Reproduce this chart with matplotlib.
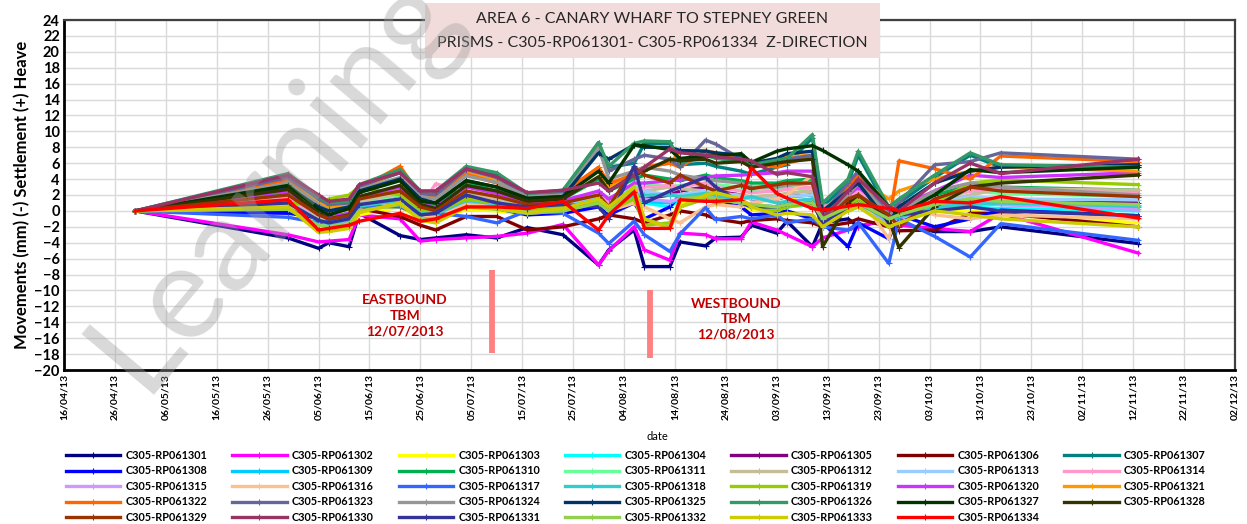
import matplotlib
matplotlib.use("Agg")
import matplotlib.pyplot as plt
import matplotlib.dates as mdates
from matplotlib.ticker import FixedLocator
from matplotlib.patches import Rectangle
import numpy as np
import datetime as dt

# ---------------- data ----------------
dates = ["2013-04-30", "2013-05-30", "2013-06-05", "2013-06-07", "2013-06-11", "2013-06-13",
         "2013-06-21", "2013-06-25", "2013-06-28", "2013-07-04", "2013-07-10", "2013-07-16",
         "2013-07-23", "2013-07-30", "2013-08-01", "2013-08-06", "2013-08-08", "2013-08-13",
         "2013-08-15", "2013-08-20", "2013-08-22", "2013-08-27", "2013-08-29", "2013-09-03",
         "2013-09-05", "2013-09-10", "2013-09-12", "2013-09-17", "2013-09-19", "2013-09-25",
         "2013-09-27", "2013-10-04", "2013-10-11", "2013-10-17", "2013-11-13"]

s1301 = [0, -3.4, -4.7, -4.0, -4.5, -0.3, -3.1, -3.6, -3.4, -3.0, -3.4, -2.1, -3.0, -6.8, -4.9, -2.4, -7.0, -7.0, -3.9, -4.4, -3.4, -3.3, -1.8, -2.8, -1.3, -4.5, -1.5, -1.0, -2.0, -1.0, -1.5, -2.6, -2.6, -2.0, -4.1]
s1302 = [0, -3.0, -3.9, -3.8, -3.6, -0.5, -1.0, -3.8, -3.6, -3.4, -3.2, -2.8, -1.7, -6.8, -5.0, -2.0, -4.9, -6.2, -2.8, -3.0, -3.5, -3.5, -1.4, -2.4, -3.0, -4.5, -3.4, -2.4, -2.0, -1.0, -1.8, -2.2, -2.6, -0.3, -5.3]
s1303 = [0, 0.3, -2.5, -2.4, -2.0, -0.5, 0.5, -1.0, -1.2, 0.2, 0.0, -0.5, 0.0, 0.5, -0.5, 2.0, 0.5, -1.0, 1.0, 1.5, 1.0, 0.5, 0.2, 0.3, 0.5, 4.3, -0.5, 0.5, 1.5, -1.5, -0.5, 0.5, 0.0, -0.5, -1.5]
s1304 = [0, 0.8, -1.3, -1.8, -1.3, 0.4, 1.0, -0.5, -0.6, 1.0, 0.6, -0.2, 0.2, 1.5, 0.5, 2.0, 1.0, 0.5, 1.5, 1.8, 1.5, 1.0, 0.5, 0.3, 0.5, 0.8, -1.0, 0.0, 0.5, -1.5, -1.0, 0.3, 0.5, 0.3, 0.0]
s1305 = [0, 1.5, -0.8, -1.5, -1.0, 1.0, 2.0, -0.2, -0.5, 1.8, 1.2, 0.5, 0.8, 1.5, 0.5, 2.5, 1.5, 2.0, 2.5, 3.0, 2.5, 2.0, 1.5, 1.5, 1.8, 2.0, -0.5, 1.0, 2.0, -0.5, 0.0, 1.0, 1.5, 1.2, 1.0]
s1306 = [0, 0.0, -1.0, -1.3, -1.0, 0.3, -0.7, -1.8, -2.4, -0.7, -0.7, -2.4, -2.0, -1.0, -0.5, -1.0, -1.5, -0.5, 0.0, -0.5, -1.0, -1.5, -1.2, -1.0, -1.2, -1.5, -2.0, -1.5, -1.0, -2.0, -2.5, -2.4, -0.3, -0.3, -2.0]
s1307 = [0, 4.5, 1.5, 0.5, 0.8, 3.0, 4.8, 2.3, 2.3, 5.3, 4.6, 2.0, 2.5, 8.4, 5.5, 6.0, 8.5, 8.5, 5.8, 6.0, 5.6, 5.0, 4.6, 5.5, 5.8, 9.2, 0.5, 3.5, 7.0, 0.0, 1.0, 4.2, 7.0, 5.5, 5.8]
s1308 = [0, -0.3, -0.8, -1.2, -0.8, 0.5, 0.8, -0.5, -0.8, 0.6, 0.3, -0.5, -0.3, 0.5, -0.5, 1.0, -1.0, 0.5, 2.0, 2.4, 1.5, 0.5, -0.5, -0.3, 0.0, -1.0, -1.5, -4.5, -1.5, -3.5, -0.5, -2.0, -1.0, 0.1, -0.6]
s1309 = [0, 0.6, -1.0, -1.4, -1.0, 0.5, 1.0, -0.3, -0.5, 1.2, 0.7, 0.2, 0.4, 1.2, 0.0, 1.8, 1.2, 1.0, 1.5, 2.0, 1.8, 1.2, 0.8, 0.5, 0.8, 1.0, -0.5, 0.3, 0.8, -1.0, -0.5, 0.5, 1.0, 0.8, 0.5]
s1310 = [0, 2.2, -0.2, -0.8, -0.3, 1.7, 3.0, 1.0, 0.8, 3.5, 2.5, 1.3, 1.5, 4.0, 2.5, 4.0, 4.5, 4.0, 3.8, 4.5, 4.2, 3.8, 3.5, 3.5, 3.8, 4.0, 0.3, 1.8, 2.8, 0.5, 0.8, 2.0, 3.2, 3.0, 2.6]
s1311 = [0, 1.6, -0.7, -1.2, -0.8, 1.0, 2.0, 0.2, 0.0, 2.2, 1.5, 0.6, 0.8, 2.5, 1.5, 3.0, 3.5, 3.0, 3.2, 3.5, 3.3, 3.0, 2.7, 2.8, 3.0, 2.5, 0.0, 1.0, 2.0, -0.5, 0.0, 1.5, 2.5, 2.2, 1.8]
s1312 = [0, 1.8, -0.8, -1.2, -0.8, 1.2, 2.2, 0.3, 0.0, 2.0, 1.5, 0.8, 0.8, 1.5, 0.5, 2.0, 2.5, 3.0, 2.8, 2.5, 2.2, 2.0, 1.8, 2.0, 2.2, 2.5, 0.5, 1.5, 2.0, 0.0, 0.3, 1.0, 2.0, 2.8, 2.6]
s1313 = [0, 1.2, -1.0, -1.5, -1.0, 0.8, 1.5, 0.0, -0.3, 1.5, 1.0, 0.3, 0.5, 1.8, 1.0, 2.2, 2.5, 2.0, 2.0, 2.5, 2.2, 1.8, 1.5, 1.6, 1.8, 2.0, -0.5, 0.5, 1.5, -1.0, -0.5, 1.0, 1.8, 1.5, 1.4]
s1314 = [0, 1.5, -0.5, -1.0, -0.5, 1.5, 2.8, 0.5, 3.4, 2.5, 1.8, 1.0, 1.2, 2.0, 1.0, 2.5, 3.0, 3.2, 3.0, 3.5, 3.0, 2.5, 2.3, 2.5, 2.7, 3.0, 0.5, 1.5, 2.5, 0.3, 0.5, 1.5, 2.5, 2.8, 2.2]
s1315 = [0, 1.0, -1.2, -1.7, -1.2, 0.5, 1.2, -0.3, -0.5, 1.2, 0.8, 0.0, 0.3, 1.0, 0.5, 1.5, 1.5, 1.2, 1.5, 2.0, 1.5, 1.0, 0.8, 0.5, 0.8, 1.0, -1.0, 0.0, 1.0, -1.5, -1.0, 0.5, 1.0, 0.8, 0.2]
s1316 = [0, 0.8, -1.0, -1.5, -1.0, 0.5, 1.0, -0.5, -0.8, 0.8, 0.5, -0.3, 0.0, 1.5, 0.0, 1.0, 0.5, -1.0, -1.5, 0.5, 0.8, 0.5, 1.0, 1.5, 2.0, 4.5, -1.5, 1.0, 2.0, -3.5, 1.0, -0.5, -1.0, -0.5, -1.0]
s1317 = [0, -0.8, -1.5, -1.2, -0.8, 0.6, 0.5, -0.5, -0.3, -0.7, -1.5, 0.0, -0.3, -2.8, -4.1, -1.3, -3.0, -5.1, -2.9, 0.4, -1.1, -0.7, -1.0, -0.5, -1.5, -1.0, -2.0, -2.4, -1.5, -6.6, -1.0, -3.2, -5.8, -1.6, -3.7]
s1318 = [0, 1.0, -1.1, -1.6, -1.1, 0.6, 1.3, -0.2, -0.4, 1.3, 0.9, 0.1, 0.4, 1.5, 0.5, 2.0, 2.0, 2.0, 1.8, 2.2, 2.0, 1.5, 1.8, 1.0, 1.2, 1.5, -1.0, 0.5, 1.0, -1.2, -0.8, 0.5, 0.8, 1.0, 0.6]
s1319 = [0, 1.0, 0.8, 1.5, 2.0, 3.0, 2.0, 0.2, -0.2, 1.5, 1.0, 0.3, 0.5, 1.0, 0.0, 1.5, -1.8, -1.5, 0.5, 1.5, 1.0, 1.5, 0.5, 0.0, 0.5, 1.0, -1.5, 0.5, 1.5, -1.0, -0.5, 1.0, 3.5, 3.9, 3.3]
s1320 = [0, 2.5, -0.3, -0.8, -0.3, 1.8, 3.0, 0.8, 0.5, 3.0, 2.2, 1.0, 1.3, 2.5, 1.5, 3.5, 3.5, 3.8, 4.0, 4.2, 4.4, 4.5, 4.6, 4.8, 5.0, 5.0, 0.0, 2.0, 3.0, 0.0, 0.5, 2.5, 4.5, 4.2, 4.8]
s1321 = [0, 3.9, 1.0, 0.5, 0.8, 2.8, 5.0, 2.0, 1.8, 4.8, 3.8, 2.0, 2.2, 5.0, 3.0, 5.0, 5.5, 6.0, 7.5, 7.6, 7.3, 6.8, 6.0, 6.5, 6.8, 7.0, 0.0, 3.0, 4.0, 1.5, 2.5, 4.0, 5.0, 5.5, 5.0]
s1322 = [0, 3.9, 0.5, -0.3, 0.2, 2.8, 5.6, 2.0, 1.5, 4.6, 3.5, 2.0, 2.3, 5.5, 3.5, 4.5, 5.5, 6.0, 5.5, 7.5, 7.0, 6.5, 6.0, 5.5, 6.0, 6.8, -1.0, 3.0, 4.5, -1.5, 6.3, 5.3, 4.0, 6.9, 6.2]
s1323 = [0, 4.2, 1.5, 0.8, 1.0, 3.0, 5.0, 2.2, 2.0, 5.2, 4.2, 2.0, 2.4, 8.6, 5.0, 6.5, 7.0, 6.5, 5.5, 8.9, 8.4, 6.5, 5.5, 6.0, 6.5, 7.0, -0.5, 3.5, 5.0, -0.5, 1.0, 5.8, 6.2, 7.3, 6.5]
s1324 = [0, 3.5, 0.8, 0.0, 0.5, 2.7, 4.2, 1.8, 1.5, 4.4, 3.6, 1.8, 2.0, 8.0, 4.0, 5.0, 5.5, 5.0, 4.5, 4.0, 3.8, 3.5, 3.0, 3.0, 3.2, 3.5, -1.0, 2.0, 3.5, -0.5, 0.0, 2.5, 3.5, 3.0, 2.0]
s1325 = [0, 3.0, 0.5, 0.0, 0.5, 2.5, 4.0, 1.5, 1.0, 3.8, 3.0, 1.5, 1.8, 7.3, 6.5, 8.3, 8.0, 8.0, 7.6, 7.5, 7.3, 7.0, 6.0, 6.6, 7.2, 7.5, 0.0, 2.5, 3.5, -1.5, 0.5, 3.5, 5.0, 5.5, 5.8]
s1326 = [0, 4.7, 1.8, 1.0, 1.2, 3.3, 5.2, 2.5, 2.5, 5.6, 4.8, 2.2, 2.6, 8.6, 5.6, 8.5, 8.8, 8.7, 6.0, 7.0, 6.6, 6.2, 5.8, 6.4, 6.6, 9.6, 1.0, 4.0, 7.5, 0.5, 1.5, 4.5, 7.3, 5.8, 5.5]
s1327 = [0, 3.2, 0.2, -0.5, 0.3, 2.3, 3.8, 1.2, 1.0, 3.8, 3.0, 1.6, 1.8, 5.0, 3.5, 8.3, 8.2, 7.7, 6.6, 6.9, 6.9, 7.2, 6.1, 7.5, 7.8, 8.2, 7.6, 5.8, 5.0, 0.5, -0.5, 2.0, 5.2, 4.8, 5.5]
s1328 = [0, 2.7, -0.3, -1.0, -0.5, 1.8, 3.2, 0.8, 0.3, 3.2, 2.5, 1.2, 1.5, 4.3, 2.5, 4.5, 5.0, 6.5, 6.3, 6.5, 6.0, 6.2, 5.5, 6.0, 6.2, 6.5, -4.5, 1.0, 2.0, -1.0, -4.6, 0.5, 3.0, 3.5, 4.5]
s1329 = [0, 2.0, -0.5, -1.0, -0.6, 1.5, 2.5, 0.5, 0.0, 2.5, 1.8, 0.8, 1.0, 2.0, 0.5, 5.5, 4.5, 3.5, 4.5, 3.0, 2.5, 3.2, 2.8, 3.3, 3.5, 3.5, -1.5, 1.5, 2.0, -0.5, -2.0, 1.5, 3.0, 2.5, 1.8]
s1330 = [0, 4.5, 2.0, 1.2, 1.5, 3.3, 4.8, 2.5, 2.5, 5.3, 4.3, 2.3, 2.6, 3.5, 2.5, 4.5, 5.5, 7.8, 7.3, 7.0, 6.8, 6.5, 6.3, 4.6, 4.8, 4.3, -1.0, 2.5, 4.0, 0.5, 0.0, 3.5, 6.0, 4.7, 6.5]
s1331 = [0, 1.0, -1.2, -1.5, -1.0, 0.8, 1.5, -0.5, -0.3, 2.0, 1.0, 0.5, 0.8, 0.5, -1.0, 5.6, 1.0, 2.5, 3.0, 4.2, 3.0, 1.0, 0.5, 0.5, 0.8, 1.0, -1.5, 0.5, 1.0, -1.0, -0.5, 0.0, 0.5, 0.0, -0.6]
s1332 = [0, 0.2, -1.8, -2.0, -1.6, 0.0, 0.8, -1.0, -1.0, 0.5, 0.2, -0.3, 0.0, 1.0, 0.0, 2.5, -1.0, -2.0, 1.5, 1.8, 1.5, 1.0, 0.8, 0.5, 0.8, 1.0, -1.0, 0.5, 1.0, -1.0, -0.5, 0.8, 1.5, 1.2, 0.8]
s1333 = [0, 0.5, -2.7, -2.6, -2.2, -0.2, 1.0, -1.2, -1.5, 0.5, 0.3, -0.2, 0.3, 1.5, 0.5, 3.0, -1.0, -2.2, 0.5, 2.0, 2.3, 1.5, 0.5, -0.5, -0.3, -0.5, -2.0, 0.0, 0.5, -2.0, -1.5, 0.0, -0.5, -1.0, -2.0]
s1334 = [0, 1.4, -2.4, -2.2, -1.8, -1.3, -0.3, -1.3, -1.0, 0.5, 0.5, 0.3, 1.2, -2.4, -0.5, 2.4, -2.2, -2.2, 1.4, 1.2, 1.2, 1.4, 5.4, 2.2, 1.6, 0.3, 0.1, 0.6, 0.8, 0.3, 0.0, 1.2, 1.0, 1.8, -0.9]

series_names = ["C305-RP0613%02d" % i for i in range(1, 35)]
series_values = [s1301, s1302, s1303, s1304, s1305, s1306, s1307, s1308, s1309, s1310,
                 s1311, s1312, s1313, s1314, s1315, s1316, s1317, s1318, s1319, s1320,
                 s1321, s1322, s1323, s1324, s1325, s1326, s1327, s1328, s1329, s1330,
                 s1331, s1332, s1333, s1334]
series_colors = ["#000080", "#FF00FF", "#FFFF00", "#00FFFF", "#800080", "#800000", "#008080",
                 "#0000FF", "#00CCFF", "#00B050", "#66FF99", "#C4BD97", "#99CCFF", "#FF99CC",
                 "#CC99FF", "#FAC090", "#3366FF", "#33CCCC", "#99CC00", "#CC33FF", "#FF9900",
                 "#FF6600", "#666699", "#969696", "#003366", "#339966", "#003300", "#333300",
                 "#993300", "#993366", "#333399", "#92D050", "#CCCC00", "#FF0000"]

# TBM annotation bars and labels
tbm_dates = ["2013-07-09", "2013-08-09"]
tbm_bottom = [-17.9, -18.5]
tbm_top = [-7.4, -10.0]
tbm_texts = ["EASTBOUND\nTBM\n12/07/2013", "WESTBOUND\nTBM\n12/08/2013"]
tbm_text_dates = ["2013-06-22", "2013-08-26"]
tbm_text_y = [-13.2, -13.6]

x_tick_start = "2013-04-16"
x_tick_count = 24
x_tick_step_days = 10

title_lines = "AREA 6 - CANARY WHARF TO STEPNEY GREEN\nPRISMS - C305-RP061301- C305-RP061334  Z-DIRECTION"

# ---------------- plot ----------------
plt.rcParams['font.family'] = ['Lato', 'DejaVu Sans']
fig = plt.figure(figsize=(12.47, 5.24), dpi=100)
ax = fig.add_axes([64/1247, 1-370/524, (1235-64)/1247, 350/524])

x = [dt.datetime.strptime(d, "%Y-%m-%d") for d in dates]
handles = []
for name, vals, col in zip(series_names, series_values, series_colors):
    h, = ax.plot(x, vals, color=col, lw=2.4, marker='+', ms=4, mew=0.8,
                 markeredgecolor=col, label=name)
    handles.append(h)

for d, yb, yt in zip(tbm_dates, tbm_bottom, tbm_top):
    xd = dt.datetime.strptime(d, "%Y-%m-%d")
    ax.plot([xd, xd], [yb, yt], color="#FF8080", lw=4.2, solid_capstyle='butt')
for t, d, yv in zip(tbm_texts, tbm_text_dates, tbm_text_y):
    xd = dt.datetime.strptime(d, "%Y-%m-%d")
    ax.text(xd, yv, t, color="#C00000", fontsize=10, fontweight='bold',
            ha='center', va='center', linespacing=1.35)

t0 = dt.datetime.strptime(x_tick_start, "%Y-%m-%d")
ticks = [t0 + dt.timedelta(days=x_tick_step_days*i) for i in range(x_tick_count)]
ax.set_xlim(ticks[0], ticks[-1])
ax.set_ylim(-20, 24)
ax.set_yticks(np.arange(-20, 25, 2))
ax.xaxis.set_major_locator(FixedLocator(mdates.date2num(ticks)))
ax.xaxis.set_major_formatter(mdates.DateFormatter("%d/%m/%y"))
plt.setp(ax.get_xticklabels(), rotation=90, fontsize=7.5, fontweight='bold')
plt.setp(ax.get_yticklabels(), fontsize=10.5, fontweight='bold')
ax.tick_params(length=0, pad=3)
ax.grid(True, color="#D9D9D9", lw=1.0)
ax.set_axisbelow(True)
for sp in ax.spines.values():
    sp.set_color("#404040")
    sp.set_linewidth(1.6)
ax.spines['bottom'].set_color("black")
ax.spines['bottom'].set_linewidth(2.0)
ax.spines['left'].set_color("black")
ax.spines['left'].set_linewidth(2.0)
ax.set_ylabel("Movements (mm) (-) Settlement (+) Heave", fontsize=12, fontweight='bold', labelpad=3)
fig.text(657/1247, 1-437/524, "date", fontsize=8, ha='center', va='center')

# title box
fig.patches.append(Rectangle((425/1247, 1-58/524), 455/1247, 55/524, transform=fig.transFigure,
                             facecolor="#F2DCDB", edgecolor='none', zorder=5))
fig.text(652/1247, 1-31/524, title_lines, fontsize=11.5, ha='center', va='center',
         color="#262626", linespacing=1.95, zorder=6)

# watermark (clipped by top edge like in the reference)
fig.text(275/1247, 1-180/524, "Learning", fontsize=95, color="#A0A0A0", alpha=0.4,
         rotation=50, ha='center', va='center', zorder=10)

# legend in row-major order
ncol = 7
order = []
for c in range(ncol):
    for r in range(5):
        i = r*ncol + c
        if i < len(handles):
            order.append(i)
leg = fig.legend([handles[i] for i in order], [series_names[i] for i in order],
                 loc='upper center', bbox_to_anchor=(0.51, 1-440/524), ncol=ncol,
                 frameon=False, handlelength=5.0, columnspacing=2.3,
                 handletextpad=0.5, labelspacing=0.42, prop={'weight': 'bold', 'size': 7.8})

fig.savefig("out.png", dpi=100)
